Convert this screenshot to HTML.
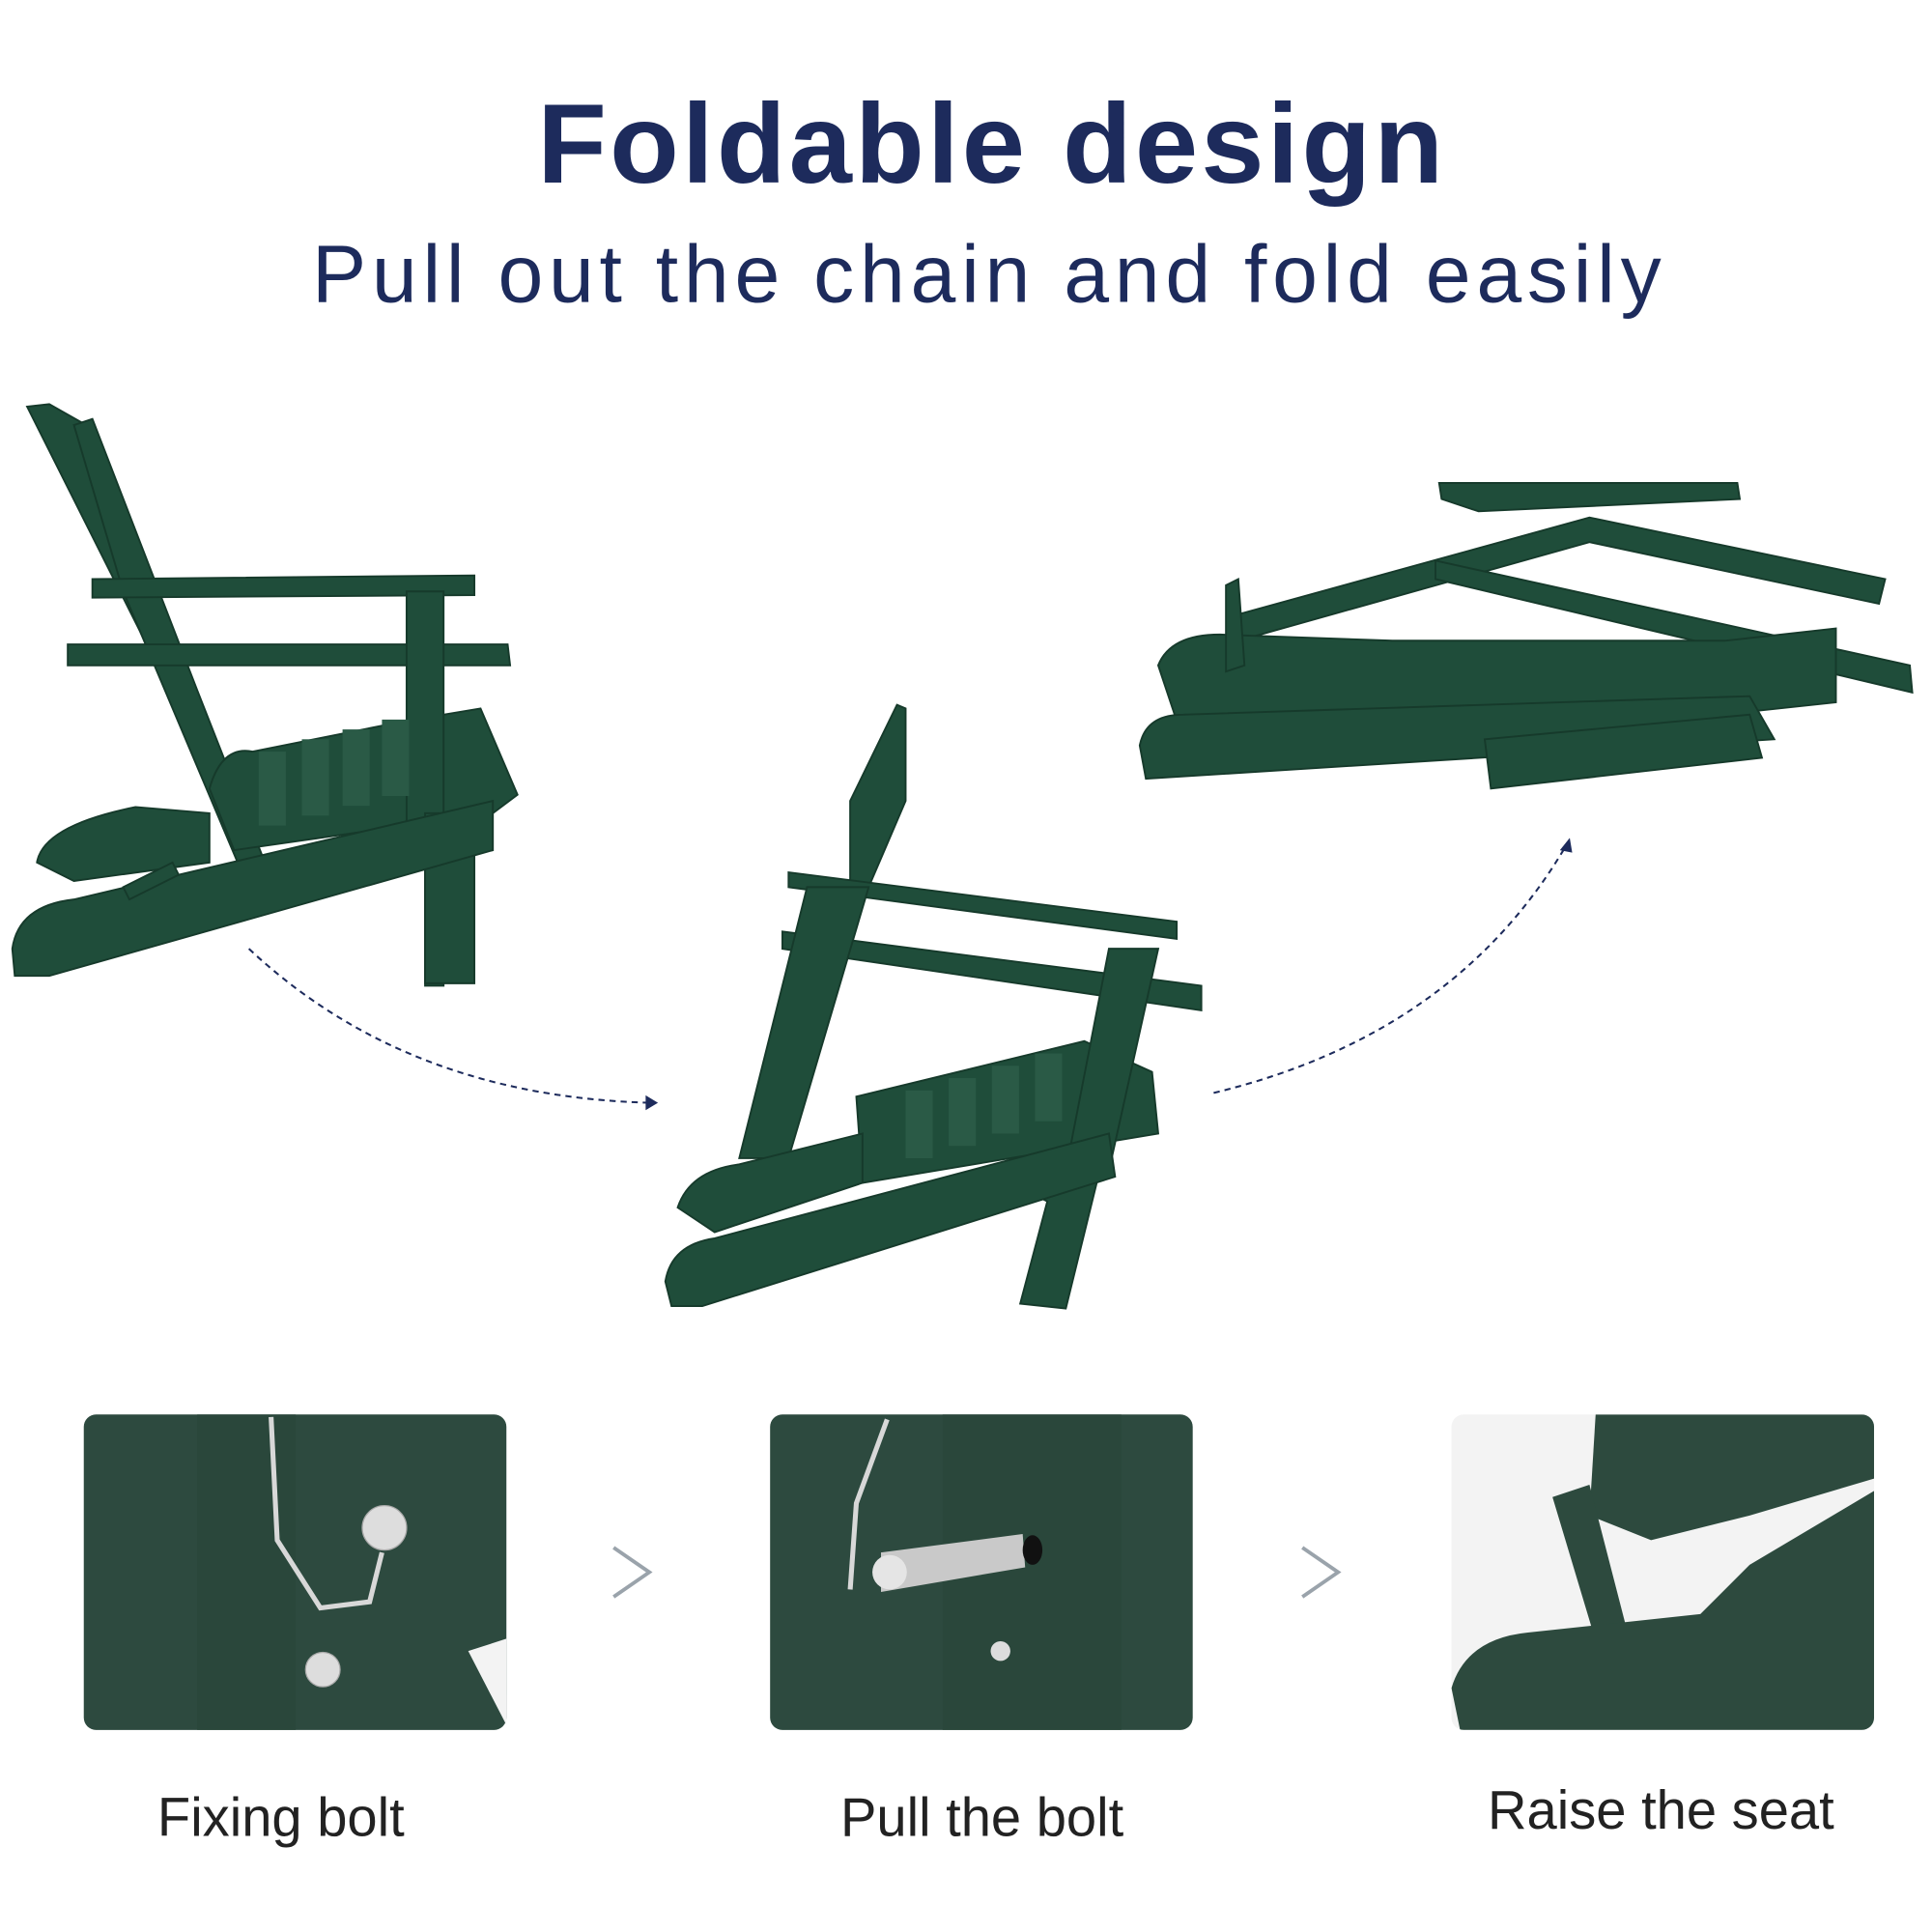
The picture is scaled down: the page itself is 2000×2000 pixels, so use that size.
<!DOCTYPE html>
<html><head><meta charset="utf-8"><style>
html,body{margin:0;padding:0;background:#fff}
svg{display:block}
</style></head><body>
<svg width="2000" height="2000" viewBox="0 0 1568 1568" xmlns="http://www.w3.org/2000/svg">
<defs><clipPath id="p3"><rect x="1178" y="1148" width="343" height="256" rx="10"/></clipPath></defs>
<rect width="1568" height="1568" fill="#fff"/>
<text x="805" y="148" text-anchor="middle" font-family="Liberation Sans, sans-serif" font-weight="bold" font-size="92" letter-spacing="2.5" fill="#1d2b5c">Foldable design</text>
<text x="803" y="245" text-anchor="middle" font-family="Liberation Sans, sans-serif" font-size="66" letter-spacing="4.5" fill="#1d2b5c">Pull out the chain and fold easily</text>

<!-- chair 1 -->
<g fill="#1f4d3a" stroke="#163a2b" stroke-width="1.5">
<path d="M22 330 L40 328 L70 345 L140 520 L120 525 Z"/>
<path d="M60 345 L75 340 L160 560 L215 700 L195 705 L100 480 Z"/>
<path d="M75 470 L385 467 L385 483 L75 485 Z"/>
<path d="M55 523 L412 523 L414 540 L55 540 Z"/>
<path d="M170 640 Q180 605 205 610 L330 585 L390 575 L420 645 L400 660 L190 690 Z"/>
<path d="M330 480 L360 480 L360 800 L345 800 L345 680 L330 680 Z"/>
<path d="M345 660 L385 660 L385 798 L345 798 Z"/>
<path d="M30 700 Q35 670 110 655 L170 660 L170 700 L60 715 Z"/>
<path d="M10 770 Q15 735 60 730 L400 650 L400 690 L40 792 L12 792 Z"/>
<path d="M100 720 L140 700 L145 710 L105 730 Z"/>
</g>
<g fill="#2a5a46"><rect x="210" y="610" width="22" height="60"/><rect x="245" y="600" width="22" height="62"/><rect x="278" y="592" width="22" height="62"/><rect x="310" y="584" width="22" height="62"/></g>

<!-- chair 2 -->
<g fill="#1f4d3a" stroke="#163a2b" stroke-width="1.5">
<path d="M728 572 L735 575 L735 650 L705 720 L690 715 L690 650 Z"/>
<path d="M640 708 L955 748 L955 762 L640 720 Z"/>
<path d="M635 756 L975 800 L975 820 L635 770 Z"/>
<path d="M655 720 L705 720 L640 940 L600 940 Z"/>
<path d="M695 890 L880 845 L935 870 L940 920 L700 960 Z"/>
<path d="M900 770 L940 770 L900 950 L865 950 Z"/>
<path d="M820 960 L870 950 L895 940 L865 1062 L828 1058 L850 975 Z"/>
<path d="M550 980 Q560 950 600 945 L700 920 L700 960 L580 1000 Z"/>
<path d="M540 1040 Q545 1010 580 1005 L900 920 L905 955 L570 1060 L545 1060 Z"/>
</g>
<g fill="#2a5a46"><rect x="735" y="885" width="22" height="55"/><rect x="770" y="875" width="22" height="55"/><rect x="805" y="865" width="22" height="55"/><rect x="840" y="855" width="22" height="55"/></g>

<!-- chair 3 folded -->
<g fill="#1f4d3a" stroke="#163a2b" stroke-width="1.5">
<path d="M1168 392 L1410 392 L1412 405 L1200 415 L1170 405 Z"/>
<path d="M1000 500 L1290 420 L1530 470 L1525 490 L1290 440 L1005 520 Z"/>
<path d="M1165 455 L1550 540 L1552 562 L1165 470 Z"/>
<path d="M940 540 Q950 515 990 515 L1130 520 L1400 520 L1490 510 L1490 570 L1210 600 L960 600 Z"/>
<path d="M925 605 Q930 580 960 580 L1420 565 L1440 600 L930 632 Z"/>
<path d="M1205 600 L1420 580 L1430 615 L1210 640 Z"/>
<path d="M995 475 L1005 470 L1010 540 L995 545 Z"/>
</g>

<!-- dashed arrows -->
<g fill="none" stroke="#1d2b5c" stroke-width="1.6" stroke-dasharray="5 4">
<path d="M202 770 Q330 890 528 895"/>
<path d="M985 887 Q1180 840 1270 688"/>
</g>
<path d="M534 895 L524 889 L524 901 Z" fill="#1d2b5c"/>
<path d="M1274 680 L1266 690 L1276 692 Z" fill="#1d2b5c"/>

<!-- panels -->
<rect x="68" y="1148" width="343" height="256" rx="10" fill="#2d4a3f"/>
<rect x="160" y="1148" width="80" height="256" fill="#2a473b"/>
<path d="M380 1340 L411 1330 L411 1400 Z" fill="#f3f3f3"/>
<g fill="none" stroke="#d8d8d8" stroke-width="4">
<path d="M220 1150 L225 1250 L260 1305 L300 1300 L310 1260"/>
</g>
<circle cx="312" cy="1240" r="18" fill="#ddd" stroke="#aaa"/>
<circle cx="262" cy="1355" r="14" fill="#ddd" stroke="#aaa"/>

<rect x="625" y="1148" width="343" height="256" rx="10" fill="#2d4a3f"/>
<rect x="765" y="1148" width="145" height="256" fill="#2a473b"/>
<g fill="none" stroke="#d8d8d8" stroke-width="4"><path d="M720 1152 L695 1220 L690 1290"/></g>
<path d="M715 1260 L830 1245 L832 1272 L715 1292 Z" fill="#c9c9c9"/>
<circle cx="722" cy="1276" r="14" fill="#e5e5e5"/>
<ellipse cx="838" cy="1258" rx="8" ry="12" fill="#111"/>
<circle cx="812" cy="1340" r="8" fill="#ddd"/>

<rect x="1178" y="1148" width="343" height="256" rx="10" fill="#f3f3f3"/>
<g fill="#2d4a3e" clip-path="url(#p3)">
<path d="M1295 1148 L1521 1148 L1521 1200 L1420 1230 L1340 1250 L1290 1230 Z"/>
<path d="M1260 1215 L1290 1205 L1330 1360 L1305 1365 Z"/>
<path d="M1185 1404 L1178 1370 Q1190 1330 1240 1325 L1380 1310 L1420 1270 L1521 1210 L1521 1404 Z"/>
</g>

<g fill="none" stroke="#9aa3ab" stroke-width="3">
<path d="M498 1256 L527 1276 L498 1296"/>
<path d="M1057 1256 L1086 1276 L1057 1296"/>
</g>

<g font-family="Liberation Sans, sans-serif" font-size="44" fill="#222" text-anchor="middle">
<text x="228" y="1490">Fixing bolt</text>
<text x="797" y="1490">Pull the bolt</text>
<text x="1348" y="1484">Raise the seat</text>
</g>
</svg>
</body></html>
